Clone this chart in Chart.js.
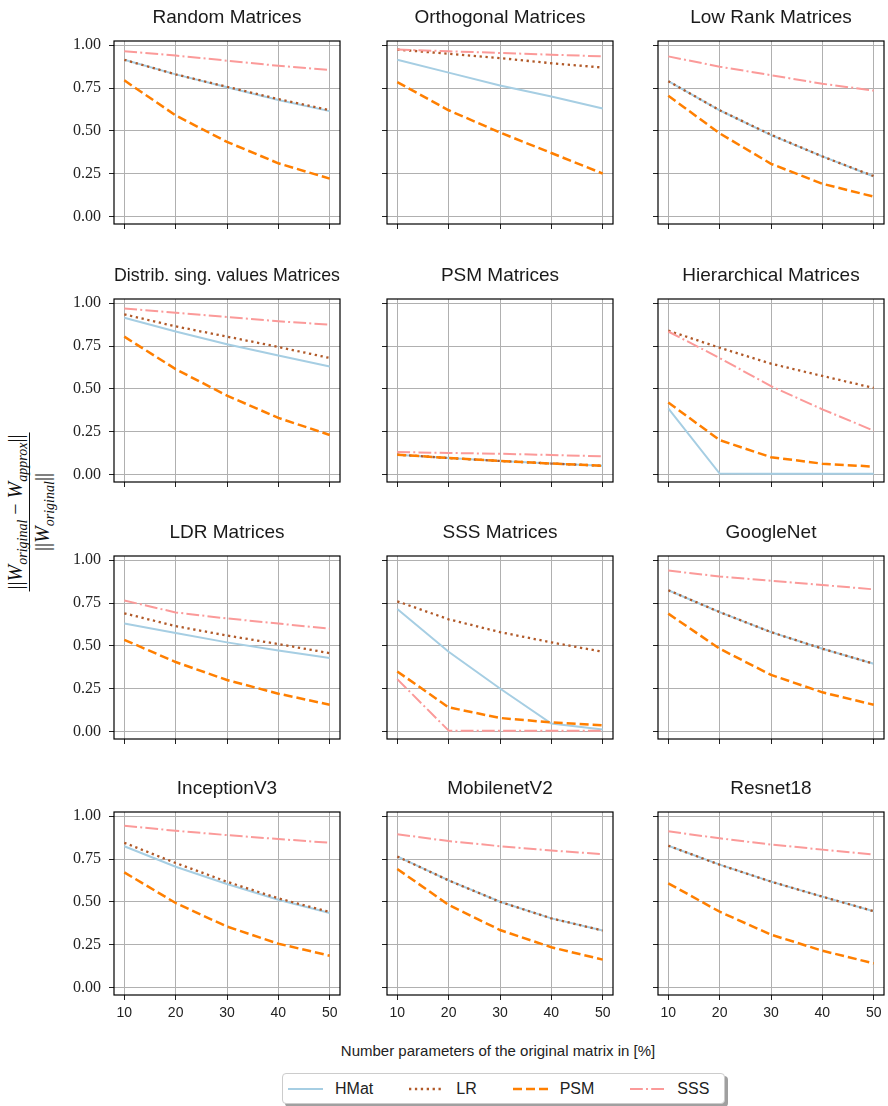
<!DOCTYPE html>
<html>
<head>
<meta charset="utf-8">
<script src="https://cdn.jsdelivr.net/npm/chart.js@4.4.1/dist/chart.umd.min.js"></script>
<style>
body { margin: 0; background: #fff; }
#fig { position: relative; width: 888px; height: 1106px; overflow: hidden; background: #fff; }
#fig canvas { position: absolute; }
#ylabel {
    position: absolute; left: 29px; top: 512px;
    transform: translate(-50%, -50%) rotate(-90deg);
    font-family: "Liberation Serif", serif; font-size: 20px; color: #111;
    white-space: nowrap; text-align: center;
}
#ylabel i { font-style: italic; }
#ylabel sub { font-size: 0.7em; font-style: italic; vertical-align: -0.35em; line-height: 0; }
#ylabel .num { border-bottom: 1px solid #111; padding: 0 2px 2px; }
#ylabel .den { padding-top: 1px; }
#xlabel {
    position: absolute; left: 498px; top: 1050px; transform: translate(-50%, -50%);
    font-family: "Liberation Sans", sans-serif; font-size: 15px; color: #222; white-space: nowrap;
}
#legend {
    position: absolute; left: 282px; top: 1073px; width: 436px; height: 29px;
    border: 1px solid #ccc; border-radius: 4px; background: #fff;
    box-shadow: 3px 3px 0 #a0a0a0;
    display: flex; align-items: center; padding-left: 5px; gap: 36px;
    font-family: "Liberation Sans", sans-serif; font-size: 16px; color: #222;
}
#legend .item { display: flex; align-items: center; }
#legend svg { margin-right: 12px; }
</style>
</head>
<body>
<div id="fig">
    <div id="ylabel"><div class="num">||<i>W</i><sub>original</sub> − <i>W</i><sub>approx</sub>||</div><div class="den">||<i>W</i><sub>original</sub>||</div></div>
    <div id="xlabel">Number parameters of the original matrix in [%]</div>
    <div id="legend"></div>
</div>
<script>
const xValues = [10, 20, 30, 40, 50];
const xTicks = [10, 20, 30, 40, 50];
const yTicks = [0, 0.25, 0.5, 0.75, 1];
const yTickLabels = ['0.00', '0.25', '0.50', '0.75', '1.00'];
const methods = ['HMat', 'LR', 'PSM', 'SSS'];

const titles = [
    'Random Matrices', 'Orthogonal Matrices', 'Low Rank Matrices',
    'Distrib. sing. values Matrices', 'PSM Matrices', 'Hierarchical Matrices',
    'LDR Matrices', 'SSS Matrices', 'GoogleNet',
    'InceptionV3', 'MobilenetV2', 'Resnet18'
];

// one row per subplot, same order as titles
const hmatValues = [
    [0.915, 0.83, 0.755, 0.68, 0.615],
    [0.915, 0.84, 0.765, 0.70, 0.63],
    [0.79, 0.62, 0.475, 0.35, 0.233],
    [0.915, 0.835, 0.76, 0.695, 0.63],
    [0.115, 0.095, 0.078, 0.063, 0.05],
    [0.385, 0.004, 0.003, 0.003, 0.003],
    [0.63, 0.575, 0.52, 0.473, 0.428],
    [0.715, 0.465, 0.25, 0.045, 0.01],
    [0.825, 0.697, 0.58, 0.483, 0.395],
    [0.825, 0.705, 0.604, 0.512, 0.435],
    [0.765, 0.625, 0.5, 0.403, 0.332],
    [0.828, 0.717, 0.618, 0.53, 0.445]
];
const lrValues = [
    [0.915, 0.83, 0.757, 0.685, 0.62],
    [0.975, 0.95, 0.925, 0.895, 0.87],
    [0.79, 0.62, 0.477, 0.35, 0.235],
    [0.935, 0.865, 0.805, 0.745, 0.68],
    [0.115, 0.095, 0.078, 0.063, 0.05],
    [0.84, 0.74, 0.647, 0.575, 0.505],
    [0.69, 0.615, 0.56, 0.51, 0.457],
    [0.76, 0.655, 0.58, 0.52, 0.465],
    [0.825, 0.697, 0.58, 0.483, 0.395],
    [0.845, 0.727, 0.617, 0.52, 0.44],
    [0.765, 0.625, 0.5, 0.403, 0.332],
    [0.828, 0.717, 0.618, 0.53, 0.445]
];
const psmValues = [
    [0.795, 0.59, 0.435, 0.31, 0.22],
    [0.785, 0.62, 0.49, 0.37, 0.25],
    [0.705, 0.485, 0.307, 0.19, 0.115],
    [0.805, 0.615, 0.46, 0.33, 0.23],
    [0.115, 0.095, 0.078, 0.063, 0.05],
    [0.42, 0.2, 0.1, 0.062, 0.045],
    [0.535, 0.405, 0.3, 0.22, 0.155],
    [0.35, 0.14, 0.078, 0.052, 0.035],
    [0.688, 0.483, 0.33, 0.228, 0.155],
    [0.672, 0.493, 0.355, 0.255, 0.185],
    [0.692, 0.482, 0.335, 0.234, 0.162],
    [0.608, 0.442, 0.308, 0.214, 0.14]
];
const sssValues = [
    [0.965, 0.94, 0.91, 0.88, 0.855],
    [0.975, 0.965, 0.955, 0.945, 0.935],
    [0.935, 0.875, 0.825, 0.775, 0.735],
    [0.97, 0.945, 0.92, 0.895, 0.875],
    [0.13, 0.125, 0.12, 0.113, 0.105],
    [0.835, 0.68, 0.515, 0.38, 0.255],
    [0.765, 0.695, 0.66, 0.63, 0.6],
    [0.305, 0.004, 0.003, 0.003, 0.003],
    [0.94, 0.905, 0.88, 0.855, 0.83],
    [0.945, 0.915, 0.89, 0.867, 0.845],
    [0.895, 0.855, 0.825, 0.8, 0.778],
    [0.912, 0.871, 0.835, 0.805, 0.776]
];

const series = [hmatValues, lrValues, psmValues, sssValues];
const colors = ['#a6cee3', '#b15928', '#ff7f00', '#fb9a99'];
const widths = [2, 2.3, 2.5, 2];
const dashes = [[], [2.3, 3.6], [9, 4], [12.8, 3.2, 2, 3.2]];

// frame positions of the 3x4 grid
const colLeft = [114, 387, 658];
const rowTop = [41, 299, 556, 812];
const plotW = 226;
const plotH = 183;

const fig = document.getElementById('fig');

const framePlugin = {
    id: 'frame',
    afterDraw(chart) {
        const { ctx, chartArea: a } = chart;
        ctx.save();
        ctx.strokeStyle = '#000';
        ctx.lineWidth = 1.2;
        ctx.strokeRect(a.left, a.top, a.right - a.left, a.bottom - a.top);
        ctx.restore();
    }
};

function makeChart(idx) {
    const row = Math.floor(idx / 3);
    const col = idx % 3;
    const padRight = col === 2 ? 5 : 14;

    const canvas = document.createElement('canvas');
    canvas.width = 60 + plotW + padRight;
    canvas.height = 40 + plotH + 28;
    canvas.style.left = (colLeft[col] - 60) + 'px';
    canvas.style.top = (rowTop[row] - 40) + 'px';
    fig.appendChild(canvas);

    new Chart(canvas, {
        type: 'line',
        data: {
            datasets: methods.map((m, k) => ({
                label: m,
                data: xValues.map((x, i) => ({ x: x, y: series[k][idx][i] })),
                borderColor: colors[k],
                borderWidth: widths[k],
                borderDash: dashes[k],
                pointRadius: 0,
                fill: false,
                tension: 0,
                order: 4 - k
            }))
        },
        options: {
            responsive: false,
            animation: false,
            devicePixelRatio: 1,
            layout: { padding: { left: 0, right: padRight, top: 0, bottom: 0 } },
            plugins: {
                legend: { display: false },
                tooltip: { enabled: false },
                title: {
                    display: true,
                    fullSize: false,
                    text: titles[idx],
                    color: '#1a1a1a',
                    font: { family: 'Liberation Sans', size: 19, weight: 'normal' },
                    padding: { top: 5, bottom: 12.2 }
                }
            },
            scales: {
                x: {
                    type: 'linear',
                    min: 8,
                    max: 52,
                    afterBuildTicks: s => { s.ticks = xTicks.map(v => ({ value: v })); },
                    afterFit: s => { s.height = 28; },
                    border: { display: false },
                    grid: { color: '#b0b0b0', lineWidth: 1, tickColor: '#222', tickLength: 5 },
                    ticks: {
                        display: row === 3,
                        padding: 5,
                        color: '#222',
                        font: { family: 'Liberation Sans', size: 14 },
                        callback: v => String(v)
                    }
                },
                y: {
                    min: -0.045,
                    max: 1.025,
                    afterBuildTicks: s => { s.ticks = yTicks.map(v => ({ value: v })); },
                    afterFit: s => { s.width = 60; },
                    border: { display: false },
                    grid: { color: '#b0b0b0', lineWidth: 1, tickColor: '#222', tickLength: 5 },
                    ticks: {
                        display: col === 0,
                        padding: 8,
                        color: '#222',
                        font: { family: 'Liberation Serif', size: 16 },
                        callback: v => yTickLabels[yTicks.indexOf(v)]
                    }
                }
            }
        },
        plugins: [framePlugin]
    });
}

for (let i = 0; i < titles.length; i++) {
    makeChart(i);
}

// figure legend
const legend = document.getElementById('legend');
methods.forEach((m, k) => {
    const item = document.createElement('div');
    item.className = 'item';
    item.innerHTML =
        '<svg width="35" height="10"><line x1="0" y1="5" x2="35" y2="5" stroke="' + colors[k] +
        '" stroke-width="' + widths[k] + '" stroke-dasharray="' + (dashes[k].join(' ') || 'none') +
        '"/></svg><span>' + m + '</span>';
    legend.appendChild(item);
});
</script>
</body>
</html>
